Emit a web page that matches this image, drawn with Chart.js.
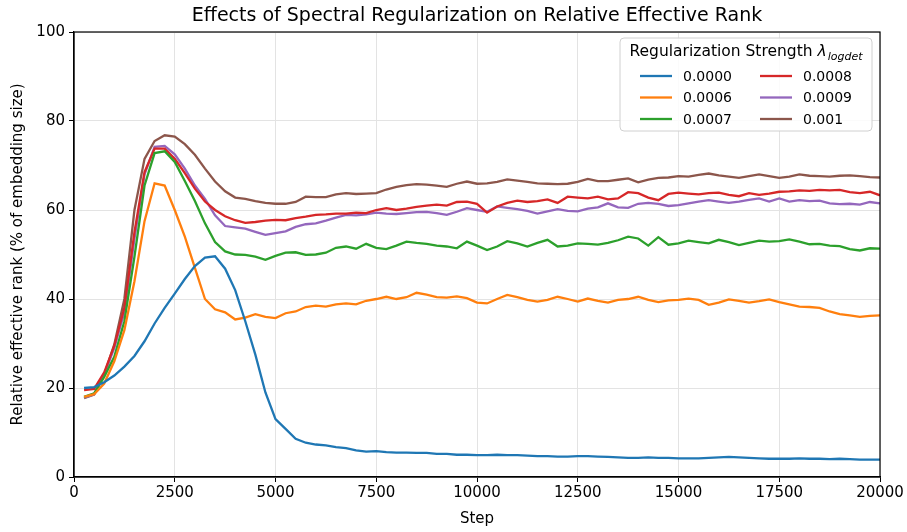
<!DOCTYPE html>
<html>
<head>
<meta charset="utf-8">
<script src="https://cdn.jsdelivr.net/npm/chart.js@4.4.0/dist/chart.umd.min.js"></script>
<style>
    html, body { margin: 0; padding: 0; background: #fff; }
    #wrap { width: 907px; height: 532px; }
</style>
</head>
<body>
<div id="wrap"><canvas id="rankChart" width="907" height="532"></canvas></div>
<script>
// Data
const steps = [
    250, 500, 750, 1000, 1250, 1500, 1750, 2000, 2250, 2500,
    2750, 3000, 3250, 3500, 3750, 4000, 4250, 4500, 4750, 5000,
    5250, 5500, 5750, 6000, 6250, 6500, 6750, 7000, 7250, 7500,
    7750, 8000, 8250, 8500, 8750, 9000, 9250, 9500, 9750, 10000,
    10250, 10500, 10750, 11000, 11250, 11500, 11750, 12000, 12250, 12500,
    12750, 13000, 13250, 13500, 13750, 14000, 14250, 14500, 14750, 15000,
    15250, 15500, 15750, 16000, 16250, 16500, 16750, 17000, 17250, 17500,
    17750, 18000, 18250, 18500, 18750, 19000, 19250, 19500, 19750, 20000
];

const labels = ['0.0000', '0.0006', '0.0007', '0.0008', '0.0009', '0.001'];

const rank0000 = [
    20.0, 20.2, 21.3, 22.8, 24.8, 27.2, 30.5, 34.5, 38.0, 41.2,
    44.5, 47.4, 49.3, 49.6, 46.8, 42.0, 35.0, 27.5, 19.0, 13.0,
    10.8, 8.6, 7.7, 7.3, 7.1, 6.7, 6.5, 6.0, 5.7, 5.8,
    5.6, 5.5, 5.5, 5.4, 5.4, 5.2, 5.2, 5.0, 5.0, 4.9,
    4.9, 5.0, 4.9, 4.9, 4.8, 4.7, 4.7, 4.6, 4.6, 4.7,
    4.7, 4.6, 4.5, 4.4, 4.3, 4.3, 4.4, 4.3, 4.3, 4.2,
    4.2, 4.2, 4.3, 4.4, 4.5, 4.4, 4.3, 4.2, 4.1, 4.1,
    4.1, 4.2, 4.1, 4.1, 4.0, 4.1, 4.0, 3.9, 3.9, 3.9
];

const rank0006 = [
    18.0, 18.6, 21.0, 26.0, 33.0, 44.0, 57.5, 66.0, 65.5, 60.0,
    54.0, 47.0, 40.0, 37.7, 37.0, 35.4, 35.8, 36.6, 36.0, 35.7,
    36.8, 37.2, 38.2, 38.5, 38.3, 38.8, 39.0, 38.8, 39.6, 40.0,
    40.5, 40.0, 40.4, 41.4, 41.0, 40.4, 40.3, 40.6, 40.2, 39.2,
    39.0, 40.0, 40.9, 40.4, 39.8, 39.4, 39.8, 40.5, 40.0, 39.4,
    40.1, 39.6, 39.2, 39.8, 40.0, 40.5, 39.8, 39.3, 39.7, 39.8,
    40.1, 39.8, 38.7, 39.2, 39.9, 39.6, 39.2, 39.5, 39.9, 39.3,
    38.8, 38.3, 38.2, 38.0, 37.2, 36.6, 36.3, 36.0, 36.2, 36.3
];

const rank0007 = [
    18.0, 18.8, 22.5, 27.0, 35.0, 49.5, 65.5, 72.8, 73.2, 70.8,
    66.5, 62.0, 57.0, 52.8, 50.7, 50.0, 49.9, 49.5, 48.8, 49.7,
    50.4, 50.5, 49.9, 50.0, 50.4, 51.5, 51.8, 51.3, 52.4, 51.5,
    51.2, 52.0, 52.9, 52.6, 52.4, 52.0, 51.8, 51.4, 52.9, 52.0,
    51.0, 51.8, 53.0, 52.5, 51.8, 52.6, 53.3, 51.8, 52.0, 52.5,
    52.4, 52.2, 52.6, 53.2, 54.0, 53.6, 52.0, 53.9, 52.2, 52.5,
    53.1, 52.8, 52.5, 53.3, 52.8, 52.1, 52.6, 53.1, 52.9, 53.0,
    53.4, 52.9, 52.3, 52.4, 52.0, 51.9, 51.2, 50.9, 51.4, 51.3
];

const rank0008 = [
    19.5, 19.8, 23.5, 29.5, 38.0, 55.0, 68.5, 73.8, 73.8, 71.5,
    68.3, 64.8, 61.9, 60.0, 58.6, 57.7, 57.1, 57.3, 57.6, 57.8,
    57.7, 58.2, 58.5, 58.9, 59.0, 59.2, 59.2, 59.4, 59.3, 60.0,
    60.4, 60.0, 60.3, 60.7, 61.0, 61.2, 61.0, 61.8, 61.9, 61.4,
    59.4, 60.8, 61.6, 62.1, 61.8, 62.0, 62.4, 61.6, 63.0, 62.8,
    62.6, 63.0, 62.4, 62.6, 64.0, 63.8, 62.8, 62.2, 63.6, 63.9,
    63.7, 63.5, 63.8, 63.9, 63.4, 63.1, 63.8, 63.4, 63.7, 64.1,
    64.2, 64.4, 64.3, 64.5, 64.4, 64.5, 64.0, 63.8, 64.1, 63.3
];

const rank0009 = [
    17.8, 18.6, 23.0, 29.0, 37.0, 53.5, 68.0, 74.2, 74.4, 72.5,
    69.3, 65.5, 62.5, 58.8, 56.4, 56.1, 55.8, 55.1, 54.4, 54.8,
    55.2, 56.2, 56.8, 57.0, 57.6, 58.3, 58.9, 58.8, 59.0, 59.4,
    59.2, 59.1, 59.3, 59.5, 59.6, 59.3, 58.9, 59.6, 60.4, 60.0,
    59.6, 60.8, 60.5, 60.2, 59.8, 59.2, 59.7, 60.2, 59.8, 59.7,
    60.3, 60.6, 61.5, 60.6, 60.5, 61.4, 61.6, 61.4, 60.9, 61.1,
    61.5, 61.9, 62.2, 61.9, 61.6, 61.9, 62.3, 62.6, 61.9, 62.6,
    61.9, 62.2, 62.0, 62.1, 61.5, 61.3, 61.4, 61.2, 61.8, 61.5
];

const rank001 = [
    17.7, 18.5, 23.0, 29.8, 40.0, 60.0, 71.5, 75.5, 76.8, 76.5,
    74.8, 72.4, 69.3, 66.4, 64.2, 62.8, 62.5, 62.0, 61.6, 61.4,
    61.4, 61.8, 63.0, 62.9, 62.9, 63.5, 63.8, 63.6, 63.7, 63.8,
    64.6, 65.2, 65.6, 65.8, 65.7, 65.5, 65.2, 65.9, 66.4, 65.9,
    66.0, 66.3, 66.9, 66.6, 66.3, 66.0, 65.9, 65.8, 65.9, 66.3,
    67.0, 66.5, 66.5, 66.8, 67.1, 66.2, 66.8, 67.2, 67.3, 67.6,
    67.5, 67.9, 68.2, 67.8, 67.5, 67.2, 67.6, 68.0, 67.6, 67.2,
    67.5, 68.0, 67.7, 67.6, 67.5, 67.7, 67.8, 67.6, 67.4, 67.3
];

const seriesValues = [rank0000, rank0006, rank0007, rank0008, rank0009, rank001];
const colors = ['#1f77b4', '#ff7f0e', '#2ca02c', '#d62728', '#9467bd', '#8c564b'];

const FONT = "'DejaVu Sans', sans-serif";

// Title + frame + matplotlib-style legend, drawn on the canvas
const decorPlugin = {
    id: 'decor',
    afterDraw(chart) {
        const ctx = chart.ctx;
        const a = chart.chartArea;
        ctx.save();

        // title
        ctx.fillStyle = '#000';
        ctx.font = '19px ' + FONT;
        ctx.textAlign = 'center';
        ctx.textBaseline = 'middle';
        ctx.fillText('Effects of Spectral Regularization on Relative Effective Rank', (a.left + a.right) / 2, 16);

        // frame
        ctx.strokeStyle = '#000';
        ctx.lineWidth = 1.2;
        ctx.strokeRect(a.left, a.top, a.right - a.left, a.bottom - a.top);

        // legend box
        const bx = 620, by = 38, bw = 252, bh = 93;
        ctx.beginPath();
        ctx.roundRect(bx, by, bw, bh, 4);
        ctx.fillStyle = 'rgba(255,255,255,0.85)';
        ctx.fill();
        ctx.strokeStyle = '#d0d0d0';
        ctx.lineWidth = 1;
        ctx.stroke();

        // legend title with subscript
        ctx.fillStyle = '#000';
        ctx.textAlign = 'left';
        const t1 = 'Regularization Strength ';
        ctx.font = '15.5px ' + FONT;
        const w1 = ctx.measureText(t1).width;
        ctx.font = 'italic 15.5px ' + FONT;
        const w2 = ctx.measureText('λ').width;
        ctx.font = 'italic 11px ' + FONT;
        const w3 = ctx.measureText('logdet').width;
        let tx = bx + bw / 2 - (w1 + w2 + w3 + 1) / 2;
        ctx.font = '15.5px ' + FONT;
        ctx.fillText(t1, tx, 52);
        tx += w1;
        ctx.font = 'italic 15.5px ' + FONT;
        ctx.fillText('λ', tx, 52);
        tx += w2 + 1;
        ctx.font = 'italic 11px ' + FONT;
        ctx.fillText('logdet', tx, 57);

        // legend entries (two columns)
        ctx.font = '14px ' + FONT;
        chart.data.datasets.forEach(function(ds, i) {
            const col = Math.floor(i / 3);
            const row = i % 3;
            const lx = 640 + col * 120;
            const ly = 76 + row * 21.5;
            ctx.strokeStyle = ds.borderColor;
            ctx.lineWidth = 2.3;
            ctx.beginPath();
            ctx.moveTo(lx, ly);
            ctx.lineTo(lx + 32, ly);
            ctx.stroke();
            ctx.fillStyle = '#000';
            ctx.fillText(ds.label, lx + 43, ly + 1);
        });

        ctx.restore();
    }
};

document.addEventListener('DOMContentLoaded', function() {
    const ctx = document.getElementById('rankChart').getContext('2d');
    new Chart(ctx, {
        type: 'line',
        data: {
            datasets: seriesValues.map(function(vals, i) {
                return {
                    label: labels[i],
                    data: steps.map(function(s, j) { return { x: s, y: vals[j] }; }),
                    borderColor: colors[i],
                    backgroundColor: colors[i],
                    borderWidth: 2.3,
                    pointRadius: 0,
                    tension: 0,
                    fill: false
                };
            })
        },
        options: {
            responsive: false,
            animation: false,
            devicePixelRatio: 1,
            layout: { padding: { top: 32, right: 27, left: 0, bottom: 0 } },
            plugins: {
                legend: { display: false },
                title: { display: false },
                tooltip: { enabled: false }
            },
            scales: {
                x: {
                    type: 'linear',
                    min: 0,
                    max: 20000,
                    afterFit: function(scale) { scale.height = 55; },
                    ticks: {
                        stepSize: 2500,
                        color: '#000',
                        font: { family: FONT, size: 15 },
                        maxRotation: 0,
                        padding: 2,
                        callback: function(v) { return String(v); }
                    },
                    grid: { color: '#e3e3e3', tickColor: '#000', tickLength: 5, lineWidth: 1 },
                    border: { display: true, color: '#000', width: 1.2 },
                    title: {
                        display: true,
                        text: 'Step',
                        color: '#000',
                        font: { family: FONT, size: 15 },
                        padding: { top: 0, bottom: 4 }
                    }
                },
                y: {
                    min: 0,
                    max: 100,
                    afterFit: function(scale) { scale.width = 74; },
                    ticks: {
                        stepSize: 20,
                        color: '#000',
                        font: { family: FONT, size: 15 },
                        padding: 4,
                        callback: function(v) { return String(v); }
                    },
                    grid: { color: '#e3e3e3', tickColor: '#000', tickLength: 5, lineWidth: 1 },
                    border: { display: true, color: '#000', width: 1.2 },
                    title: {
                        display: true,
                        text: 'Relative effective rank (% of embedding size)',
                        color: '#000',
                        font: { family: FONT, size: 15 },
                        padding: { top: 9, bottom: 0 }
                    }
                }
            }
        },
        plugins: [decorPlugin]
    });
});
</script>
</body>
</html>
